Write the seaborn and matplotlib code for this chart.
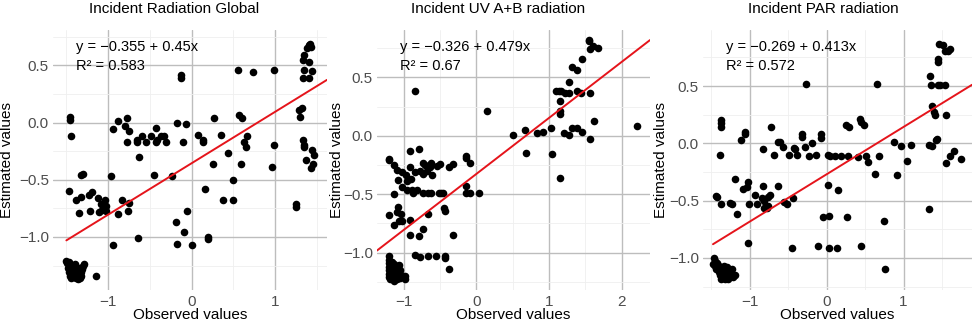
import numpy as np
import pandas as pd
import matplotlib
matplotlib.use("Agg")
import matplotlib.pyplot as plt
import seaborn as sns
from matplotlib.ticker import MultipleLocator, FuncFormatter

# ---------------- data ----------------
titles = ["Incident Radiation Global", "Incident UV A+B radiation", "Incident PAR radiation"]
intercepts = [-0.355, -0.326, -0.269]
slopes = [0.45, 0.479, 0.413]
r_squared = [0.583, 0.67, 0.572]

global_obs = [
    -1.50, -1.49, -1.47, -1.46, -1.48, -1.45, -1.47, -1.44, -1.42, -1.43, -1.41, -1.40, -1.39, -1.38,
    -1.37, -1.36, -1.35, -1.34, -1.33, -1.32, -1.31, -1.30, -1.29, -1.44, -1.46, -1.40, -1.36, -1.33,
    -1.46, -1.46, -1.45, -1.47, -1.15,
    -1.33, -1.30, -1.38, -1.35, -1.32, -1.23, -1.19, -1.22, -1.12, -1.09, -1.11, -1.07, -1.04, -1.03,
    -1.02, -0.97, -0.94, -0.94, -0.88, -0.88, -0.84, -0.80, -0.77, -0.75, -0.78, -0.76, -0.75, -0.66,
    -0.65, -0.63, -0.64, -0.59, -0.55, -0.49, -0.45, -0.43, -0.43, -0.41, -0.37, -0.33, -0.31, -0.24,
    -0.19, -0.18, -0.18, -0.13, -0.13, -0.10, -0.09, -0.07, -0.06, 0.00, 0.08, 0.14, 0.14, 0.16,
    0.19, 0.19, 0.26, 0.27, 0.35, 0.37, 0.44, 0.49, 0.50, 0.56, 0.59, 0.57, 0.60, 0.63, 0.65, 0.66,
    0.73, 0.96, 0.98, 0.99, 1.25, 1.25,
    1.29, 1.30, 1.32, 1.33, 1.34, 1.35, 1.37, 1.33, 1.35, 1.38, 1.40, 1.42, 1.43, 1.40, 1.35, 1.33,
    1.41, 1.44, 1.44, 1.46, 1.45, 1.43,
]
global_est = [
    -1.21, -1.23, -1.22, -1.25, -1.27, -1.29, -1.31, -1.33, -1.30, -1.26, -1.35, -1.32, -1.28, -1.36,
    -1.30, -1.33, -1.27, -1.36, -1.31, -1.34, -1.28, -1.25, -1.24, -1.36, -1.34, -1.24, -1.37, -1.29,
    0.05, 0.02, -0.12, -0.60, -1.34,
    -0.46, -0.45, -0.68, -0.79, -0.65, -0.63, -0.61, -0.77, -0.66, -0.71, -0.78, -0.76, -0.68, -0.73,
    -0.77, -0.47, -1.07, -0.06, 0.01, -0.80, -0.68, -0.03, 0.04, -0.07, -0.17, -0.77, -0.70, -0.15,
    -0.17, -0.30, -1.01, -0.12, -0.17, -0.12, -0.46, -0.05, -0.17, -0.15, -0.12, -0.12, -0.17, -0.47,
    -0.87, -1.06, 0.00, 0.42, 0.39, -0.17, -0.96, -0.01, -0.77, -1.07, -0.11, -0.17, -0.15, -0.58,
    -1.00, -1.02, -0.36, 0.04, -0.11, -0.68, -0.27, -0.68, -0.50, 0.46, -0.36, 0.07, 0.04, -0.17, -0.21, -0.12,
    0.44, -0.39, 0.46, -0.20, -0.71, -0.74,
    0.11, 0.05, 0.13, -0.15, -0.20, -0.21, -0.33, 0.55, 0.59, 0.65, 0.68, 0.69, 0.66, 0.53, 0.46, 0.39,
    0.39, 0.45, -0.24, -0.28, -0.36, -0.40,
]

uv_obs = [
    -1.21, -1.21, -1.20, -1.20, -1.21, -1.20, -1.21, -1.19, -1.17, -1.16, -1.15, -1.14, -1.13, -1.12,
    -1.11, -1.10, -1.09, -1.08, -1.07, -1.06, -1.05, -1.04, -0.99, -0.98, -1.16, -1.13,
    -1.20, -1.20, -1.20, -1.14, -1.14, -1.14, -1.10, -1.08, -1.08, -1.10, -1.07, -1.04, -1.03, -1.02,
    -1.03, -0.97, -0.96, -0.95, -0.91, -0.91, -0.91, -0.91, -0.90, -0.89, -0.88, -0.85, -0.85, -0.84,
    -0.82, -0.79, -0.79, -0.78, -0.78, -0.73, -0.73, -0.73, -0.73, -0.71, -0.68, -0.67, -0.67, -0.67,
    -0.64, -0.63, -0.62, -0.61, -0.56, -0.55, -0.51, -0.50, -0.49, -0.46, -0.45, -0.44, -0.44, -0.44,
    -0.38, -0.38, -0.32, -0.32, -0.15, -0.15, -0.14, -0.14, -0.09, -0.09, 0.03, 0.15, 0.50, 0.67,
    0.68, 0.84, 0.91, 1.03, 1.04, 1.09, 1.13, 1.15, 1.15, 1.15, 1.15, 1.17, 1.20, 1.22, 1.27, 1.28,
    1.27, 1.32, 1.38, 1.32, 1.38, 1.38, 1.44, 1.45, 1.45, 1.55, 1.55, 1.56, 1.56, 1.56, 1.61, 1.62,
    1.68, 2.21,
]
uv_est = [
    -1.03, -1.06, -1.09, -1.12, -1.15, -1.18, -1.21, -1.23, -1.20, -1.14, -1.17, -1.22, -1.10, -1.19,
    -1.13, -1.23, -1.16, -1.20, -1.11, -1.22, -1.15, -1.19, -1.20, -1.23, -1.08, -1.24,
    -0.20, -0.21, -0.68, -0.25, -0.50, -0.76, -0.29, -0.38, -0.61, -0.65, -0.73, -0.67, -0.31, -0.73,
    -0.44, -0.34, -0.46, -0.39, -0.13, -0.27, -0.72, -0.85, -0.37, -0.46, -0.49, 0.38, -1.02, -0.31,
    -0.46, -0.11, -0.86, -1.04, -0.30, -0.23, -0.33, -0.49, -0.80, -0.25, -0.30, -0.49, -0.67, -1.03,
    -0.27, -0.49, -0.23, -0.34, -1.03, -0.26, -0.49, -0.24, -0.49, -0.49, -0.62, -0.64, -1.03, -1.05,
    -1.14, -0.27, -0.24, -0.85, -0.17, -0.19, -0.43, -0.49, -0.23, -0.49, -0.49, 0.21, 0.01, 0.05,
    -0.15, 0.02, 0.03, 0.07, -0.16, 0.38, 0.38, 0.30, 0.21, 0.19, -0.36, 0.38, 0.02, 0.37, 0.01, 0.37,
    0.46, 0.59, 0.56, 0.07, 0.07, 0.38, 0.37, 0.03, 0.66, 0.82, 0.81, 0.74, 0.37, -0.03, 0.77, 0.13,
    0.75, 0.08,
]

par_obs = [
    -1.47, -1.46, -1.48, -1.45, -1.43, -1.44, -1.42, -1.40, -1.41, -1.39, -1.38, -1.37, -1.36, -1.35,
    -1.34, -1.33, -1.32, -1.31, -1.30, -1.29, -1.28, -1.27, -1.25, -1.23, -1.22, -1.20, -1.38, -1.34,
    -1.44, -1.43, -1.39, -1.38, -1.37, -1.37, -1.37, -1.26, -1.23, -1.20, -1.17, -1.11, -1.09, -1.06,
    -1.06, -1.04, -1.03, -1.03, -1.01, -0.93, -0.91, -0.84, -0.83, -0.83, -0.82, -0.81, -0.78, -0.76,
    -0.74, -0.77, -0.73, -0.68, -0.64, -0.61, -0.63, -0.57, -0.56, -0.52, -0.49, -0.45, -0.44, -0.43,
    -0.41, -0.39, -0.32, -0.32, -0.28, -0.27, -0.23, -0.19, -0.14, -0.12, -0.08, -0.08, -0.05, 0.02,
    0.02, 0.03, 0.03, 0.04, 0.11, 0.13, 0.15, 0.19, 0.25, 0.29, 0.26, 0.28, 0.41, 0.43, 0.44, 0.45,
    0.48, 0.51, 0.54, 0.63, 0.66, 0.68, 0.74, 0.76, 0.87, 0.91, 0.97, 1.05, 1.10,
    1.33, 1.33, 1.35, 1.36, 1.37, 1.37, 1.39, 1.41, 1.42, 1.44, 1.45, 1.45, 1.45, 1.47, 1.46, 1.51,
    1.54, 1.54, 1.55, 1.55, 1.58, 1.61, 1.61, 1.65, 1.75,
]
par_est = [
    -1.00, -1.03, -1.05, -1.07, -1.04, -1.10, -1.08, -1.12, -1.06, -1.15, -1.09, -1.13, -1.17, -1.11,
    -1.15, -1.18, -1.12, -1.16, -1.08, -1.14, -1.18, -1.12, -1.15, -1.10, -1.17, -1.15, -1.18, -1.07,
    -0.46, -0.47, -0.10, 0.20, 0.18, 0.14, -0.53, -0.52, -0.53, -0.31, -0.62, 0.03, -0.40, 0.08,
    0.10, -0.38, -0.87, -0.34, -0.53, -0.45, -0.53, -0.48, -0.05, -0.37, -0.56, -0.50, -0.56, -0.47,
    -0.45, -0.55, 0.14, -0.10, 0.01, 0.01, -0.37, -0.03, -0.51, -0.53, -0.10, -0.91, -0.48, -0.04,
    -0.05, -0.10, 0.08, 0.06, -0.03, 0.52, -0.11, 0.00, -0.10, -0.90, 0.08, 0.05, -0.64, -0.10,
    -0.36, -0.63, -0.91, -0.11, -0.11, -0.91, -0.41, -0.11, 0.16, 0.14, -0.64, -0.11, -0.12, 0.21, -0.90, 0.19,
    0.16, -0.11, -0.16, -0.27, 0.52, -0.11, -0.68, -1.10, 0.01, -0.28, -0.02, -0.15, -0.01,
    -0.57, -0.01, 0.59, 0.51, 0.33, -0.02, 0.27, 0.25, 0.03, 0.04, 0.51, 0.74, 0.71, 0.51, 0.87, 0.86,
    0.81, 0.51, -0.17, 0.25, 0.81, 0.82, -0.11, -0.07, -0.14,
]

panels = [(global_obs, global_est), (uv_obs, uv_est), (par_obs, par_est)]

# ---------------- layout / style ----------------
W, H = 974, 325
axes_px = [(53, 30, 274, 260), (377, 30, 273, 260), (703, 30, 269, 260)]
xlims = [(-1.66, 1.62), (-1.37, 2.39), (-1.61, 1.89)]
ylims = [(-1.464, 0.81), (-1.32, 0.905), (-1.28, 0.99)]
line_full_left = [False, True, False]
title_x_px = [174, 498, 823]
ylabel_x_px = [7, 337, 661]

sns.set_theme(style="white")
plt.rcParams['font.family'] = ['Liberation Sans', 'DejaVu Sans']

fig = plt.figure(figsize=(W / 100, H / 100), dpi=100)

minus_fmt_x = FuncFormatter(lambda v, p: f"{v:.0f}".replace("-", "\u2212") if abs(v) > 1e-9 else "0")
minus_fmt_y = FuncFormatter(lambda v, p: (f"{v:.1f}" if abs(v) > 1e-9 else "0.0").replace("-", "\u2212"))

for i, (obs, est) in enumerate(panels):
    l, t, w, h = axes_px[i]
    ax = fig.add_axes([l / W, 1 - (t + h) / H, w / W, h / H])
    df = pd.DataFrame({"obs": obs, "est": est})
    sns.scatterplot(data=df, x="obs", y="est", ax=ax, color="black", s=30,
                    linewidth=0, zorder=3)
    x0 = xlims[i][0] if line_full_left[i] else df["obs"].min()
    xs = np.linspace(x0, xlims[i][1], 50)
    sns.lineplot(x=xs, y=intercepts[i] + slopes[i] * xs, ax=ax, color="#E5141B",
                 linewidth=1.4, zorder=4)
    ax.set_xlim(*xlims[i])
    ax.set_ylim(*ylims[i])
    ax.xaxis.set_major_locator(MultipleLocator(1))
    ax.xaxis.set_minor_locator(MultipleLocator(0.5))
    ax.yaxis.set_major_locator(MultipleLocator(0.5))
    ax.yaxis.set_minor_locator(MultipleLocator(0.25))
    ax.xaxis.set_major_formatter(minus_fmt_x)
    ax.yaxis.set_major_formatter(minus_fmt_y)
    ax.grid(which="major", color="#BDBDBD", linewidth=1.0)
    ax.grid(which="minor", color="#EFEFEF", linewidth=0.6)
    ax.set_axisbelow(True)
    for s in ax.spines.values():
        s.set_visible(False)
    ax.tick_params(which="both", length=0, labelsize=11, labelcolor="#4D4D4D", pad=3.5)
    ax.tick_params(axis="y", pad=3)
    ax.set_xlabel("")
    ax.set_ylabel("")
    a, b, r2 = intercepts[i], slopes[i], r_squared[i]
    sign = "\u2212" if a < 0 else ""
    ax.text(0.085, 0.935, f"y = {sign}{abs(a):g} + {b:g}x", transform=ax.transAxes,
            ha="left", va="center", fontsize=10.5, color="black", zorder=5)
    ax.text(0.085, 0.862, f"R\u00b2 = {r2:g}", transform=ax.transAxes,
            ha="left", va="center", fontsize=10.5, color="black", zorder=5)
    fig.text(title_x_px[i] / W, 1 - 9 / H, titles[i], ha="center", va="center",
             fontsize=11, color="black")
    fig.text(ylabel_x_px[i] / W, 1 - (t + h / 2) / H, "Estimated values", rotation=90,
             ha="center", va="center", fontsize=11, color="black")
    fig.text((l + w / 2) / W, 1 - 315 / H, "Observed values", ha="center", va="center",
             fontsize=11, color="black")

fig.savefig("out.png", dpi=100)
